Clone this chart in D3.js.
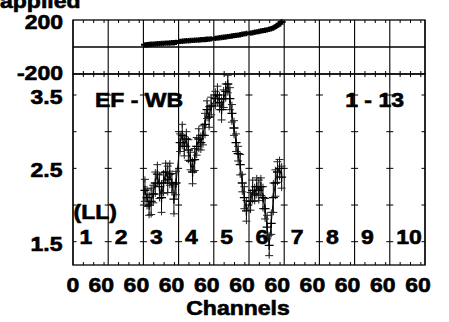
<!DOCTYPE html>
<html>
<head>
<meta charset="utf-8">
<script src="https://cdn.jsdelivr.net/npm/d3@7"></script>
<style>
  html, body { margin: 0; padding: 0; background: #fff; }
  svg { display: block; }
  text { font-family: "Liberation Sans", Arial, Helvetica, sans-serif; font-weight: bold; font-size: 20px; fill: #000; stroke: #000; stroke-width: 0.6px; }
</style>
</head>
<body>
<div id="chart"></div>
<script>
// ---------------- data ----------------
const panelLabels = ["1", "2", "3", "4", "5", "6", "7", "8", "9", "10"];
const channelsPerPanel = 68;
const xTickLabels = ["0", "60", "60", "60", "60", "60", "60", "60", "60", "60", "60"];
const minorChannelTicks = [20, 40, 60];
const ratioTicks = [1.5, 2.0, 2.5, 3.0, 3.5];
const ratioTickLabels = ["1.5", "", "2.5", "", "3.5"];
const appliedTicks = [-200, 200];
const appliedTickLabels = ["-200", "200"];

const dataPanels = [3, 4, 5, 6];
const dataChannels = [3, 7, 11, 15, 19, 23, 27, 31, 35, 39, 43, 47, 51, 55, 59, 63];

// EF - WB ratio, per panel
const ratioP3 = [2.2, 2.1, 2.0, 2.05, 2.15, 2.3, 2.42, 2.25, 2.1, 2.3, 2.45, 2.35, 2.42, 2.3, 2.08, 2.3];
const ratioP4 = [2.85, 2.95, 2.8, 2.9, 2.75, 2.6, 2.45, 2.62, 2.8, 2.9, 2.85, 2.95, 3.1, 3.3, 3.2, 3.35];
const ratioP5 = [3.45, 3.5, 3.4, 3.3, 3.45, 3.55, 3.65, 3.45, 3.25, 3.05, 2.85, 2.7, 2.55, 2.3, 2.1, 1.92];
const ratioP6 = [2.05, 2.2, 2.15, 2.25, 2.2, 2.25, 2.1, 1.95, 1.7, 1.45, 1.75, 2.1, 2.3, 2.45, 2.5, 2.38];
const errP3 = [0.15, 0.12, 0.14, 0.18, 0.12, 0.15, 0.13, 0.16, 0.2, 0.14, 0.12, 0.18, 0.15, 0.13, 0.2, 0.16];
const errP4 = [0.12, 0.15, 0.13, 0.1, 0.14, 0.12, 0.16, 0.15, 0.12, 0.14, 0.1, 0.13, 0.15, 0.12, 0.14, 0.12];
const errP5 = [0.1, 0.12, 0.1, 0.14, 0.12, 0.1, 0.12, 0.15, 0.12, 0.1, 0.12, 0.1, 0.14, 0.12, 0.15, 0.14];
const errP6 = [0.12, 0.14, 0.1, 0.12, 0.14, 0.12, 0.15, 0.14, 0.16, 0.14, 0.15, 0.2, 0.18, 0.14, 0.12, 0.15];

// applied, per panel
const appliedP3 = [16, 17, 19, 20, 21, 23, 24, 25, 26, 27, 29, 29, 30, 31, 32, 34];
const appliedP4 = [42, 43, 44, 46, 46, 48, 49, 50, 51, 52, 54, 55, 56, 57, 58, 60];
const appliedP5 = [64, 66, 68, 70, 72, 74, 77, 79, 81, 84, 86, 88, 91, 94, 97, 100];
const appliedP6 = [103, 106, 109, 112, 115, 118, 121, 124, 127, 131, 135, 141, 150, 160, 172, 186];
const appliedErr = 20;

// ---------------- build ----------------
const W = 449, H = 322;
const left = 73, right = 425;
const topTop = 20, topBottom = 74, botTop = 74, botBottom = 265;

const svg = d3.select("#chart").append("svg").attr("width", W).attr("height", H);

const x = d3.scaleLinear().domain([0, panelLabels.length * channelsPerPanel]).range([left, right]);
const yTop = d3.scaleLinear().domain([-200, 200]).range([topBottom, topTop]);
const yBot = d3.scaleLinear().domain([1.5, 3.5]).range([241.7, 95]);

function gx(panel, ch) { return x((panel - 1) * channelsPerPanel + ch); }

function label(txt, px, py, anchor) {
  svg.append("text")
    .attr("transform", `translate(${px},${py}) scale(1.15,1)`)
    .attr("text-anchor", anchor || "start")
    .text(txt);
}

const ratioSeries = [ratioP3, ratioP4, ratioP5, ratioP6];
const errSeries = [errP3, errP4, errP5, errP6];
const appliedSeries = [appliedP3, appliedP4, appliedP5, appliedP6];

const ratioPts = [], appliedPts = [];
dataPanels.forEach((p, i) => {
  dataChannels.forEach((c, j) => {
    ratioPts.push({ x: gx(p, c), v: ratioSeries[i][j], e: errSeries[i][j] });
    appliedPts.push({ x: gx(p, c), v: appliedSeries[i][j], e: appliedErr });
  });
});

const ink = "#000";
const boundaries = d3.range(0, panelLabels.length + 1).map(k => x(k * channelsPerPanel));

// ---- top panel ----
const gTop = svg.append("g");
gTop.append("rect").attr("x", left).attr("y", topTop).attr("width", right - left).attr("height", topBottom - topTop)
  .attr("fill", "none").attr("stroke", ink).attr("stroke-width", 1.3);
gTop.append("line").attr("x1", left).attr("x2", right).attr("y1", yTop(0)).attr("y2", yTop(0))
  .attr("stroke", ink).attr("stroke-width", 1.3);
boundaries.forEach(bx => {
  gTop.append("line").attr("x1", bx).attr("x2", bx).attr("y1", topTop).attr("y2", topBottom)
    .attr("stroke", ink).attr("stroke-width", 1.1);
});

// ---- bottom panel ----
const gBot = svg.append("g");
gBot.append("rect").attr("x", left).attr("y", botTop).attr("width", right - left).attr("height", botBottom - botTop)
  .attr("fill", "none").attr("stroke", ink).attr("stroke-width", 1.3);
boundaries.forEach(bx => {
  gBot.append("line").attr("x1", bx).attr("x2", bx).attr("y1", botTop).attr("y2", botBottom)
    .attr("stroke", ink).attr("stroke-width", 1.1);
});

// minor channel ticks on both panels
d3.range(0, panelLabels.length).forEach(k => {
  minorChannelTicks.forEach(c => {
    const tx = x(k * channelsPerPanel + c);
    [[topTop, 3], [topBottom, -3], [botTop, 3], [botBottom, -3]].forEach(([yy, d]) => {
      svg.append("line").attr("x1", tx).attr("x2", tx).attr("y1", yy).attr("y2", yy + d)
        .attr("stroke", ink).attr("stroke-width", 1);
    });
  });
});

// y ticks at every panel boundary
ratioTicks.forEach(t => {
  const ty = yBot(t);
  boundaries.forEach((bx, i) => {
    const x1 = i === 0 ? bx : bx - 3.5;
    const x2 = i === boundaries.length - 1 ? bx : bx + 3.5;
    svg.append("line").attr("x1", x1).attr("x2", x2).attr("y1", ty).attr("y2", ty)
      .attr("stroke", ink).attr("stroke-width", 1);
  });
});

// ---- data: bottom ----
const clipB = svg.append("clipPath").attr("id", "clipB");
clipB.append("rect").attr("x", left).attr("y", botTop).attr("width", right - left).attr("height", botBottom - botTop);
const gData = svg.append("g").attr("clip-path", "url(#clipB)");
gData.append("path").datum(ratioPts)
  .attr("d", d3.line().x(d => d.x).y(d => yBot(d.v)))
  .attr("fill", "none").attr("stroke", ink).attr("stroke-width", 1);
gData.selectAll(".eb").data(ratioPts).enter().append("line")
  .attr("x1", d => d.x).attr("x2", d => d.x)
  .attr("y1", d => yBot(d.v - d.e)).attr("y2", d => yBot(d.v + d.e))
  .attr("stroke", ink).attr("stroke-width", 1);
gData.selectAll(".ebc").data(ratioPts.flatMap(d => [d.v - d.e, d.v + d.e].map(v => ({ x: d.x, v })))).enter().append("path")
  .attr("d", d => `M${d.x - 4},${yBot(d.v)}H${d.x + 4}M${d.x},${yBot(d.v) - 3}V${yBot(d.v) + 3}`)
  .attr("stroke", "#222").attr("stroke-width", 1).attr("fill", "none");
gData.selectAll(".pl").data(ratioPts).enter().append("path")
  .attr("d", d => `M${d.x - 4.5},${yBot(d.v)}H${d.x + 4.5}M${d.x},${yBot(d.v) - 4.5}V${yBot(d.v) + 4.5}`)
  .attr("stroke", ink).attr("stroke-width", 1.3).attr("fill", "none");

// ---- data: top ----
const gTopData = svg.append("g");
gTopData.append("path").datum(appliedPts)
  .attr("d", d3.line().x(d => d.x).y(d => yTop(d.v)))
  .attr("fill", "none").attr("stroke", ink).attr("stroke-width", 3.5);
gTopData.selectAll(".teb").data(appliedPts).enter().append("path")
  .attr("d", d => `M${d.x - 4},${yTop(d.v)}H${d.x + 4}M${d.x},${yTop(d.v - d.e)}V${yTop(d.v + d.e)}`)
  .attr("stroke", ink).attr("stroke-width", 2).attr("fill", "none");

// ---- text ----
label("applied", 80.5, 8, "end");
appliedTicks.forEach((t, i) => {
  label(appliedTickLabels[i], 63, t > 0 ? yTop(t) + 8.5 : 80, "end");
});
ratioTicks.forEach((t, i) => {
  if (ratioTickLabels[i]) label(ratioTickLabels[i], 62.5, yBot(t) + 9, "end");
});
label("EF - WB", 95, 106.5, "start");
label("1 - 13", 404, 106.5, "end");
label("(LL)", 73.5, 219, "start");
panelLabels.forEach((p, k) => {
  label(p, x(k * channelsPerPanel) + 6.5, 244, "start");
});
xTickLabels.forEach((t, k) => {
  const px = k === 0 ? x(0) : x(k * channelsPerPanel) - 7;
  label(t, px, 292, "middle");
});
label("Channels", 238, 315, "middle");
</script>
</body>
</html>
